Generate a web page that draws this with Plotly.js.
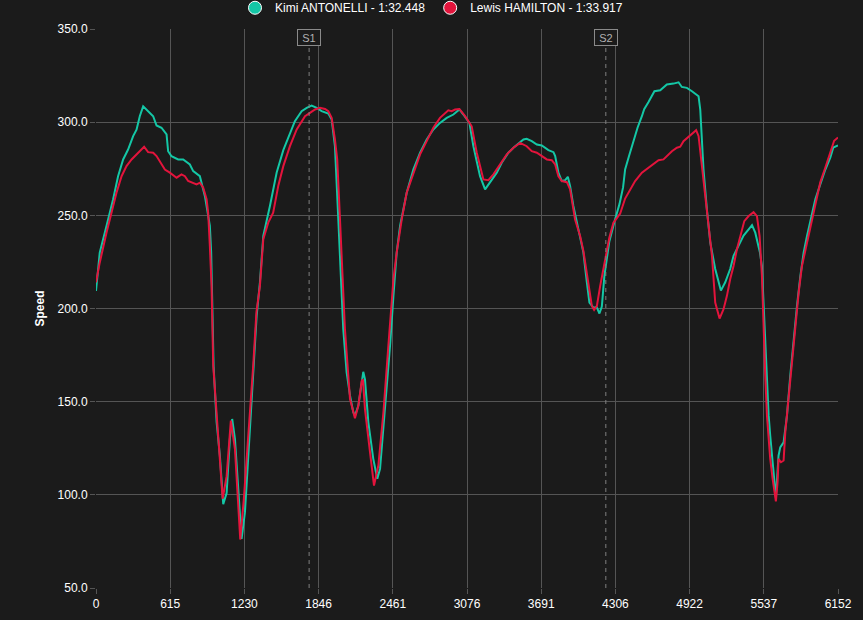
<!DOCTYPE html>
<html>
<head>
<meta charset="utf-8">
<script src="https://cdn.plot.ly/plotly-3.0.1.min.js"></script>
<style>
html,body{margin:0;padding:0;background:#1b1b1b;}
#chart{width:863px;height:620px;}
</style>
</head>
<body>
<div id="chart"></div>
<script>
var driverNames = ['Kimi ANTONELLI - 1:32.448', 'Lewis HAMILTON - 1:33.917'];
var driverColors = ['#14c7a6', '#e3143c'];

var antonelliDist = [0,31,87,142,183,225,266,308,336,363,391,432,474,502,543,585,598,626,681,723,778,806,861,903,944,955,965,975,1000,1027,1055,1083,1110,1129,1152,1179,1207,1235,1262,1303,1332,1359,1387,1442,1498,1553,1608,1649,1705,1747,1788,1830,1871,1926,1954,1981,2009,2037,2050,2078,2106,2133,2147,2175,2203,2216,2230,2258,2299,2332,2355,2396,2438,2466,2493,2521,2576,2631,2687,2742,2797,2852,2908,2963,3013,3046,3096,3129,3184,3226,3267,3323,3364,3419,3461,3516,3544,3571,3613,3655,3696,3751,3793,3807,3834,3862,3890,3912,3931,3958,4000,4041,4070,4091,4124,4153,4174,4194,4215,4256,4300,4340,4370,4387,4420,4460,4490,4526,4545,4581,4630,4678,4733,4788,4830,4857,4899,4941,4996,5010,5024,5037,5065,5093,5134,5181,5217,5258,5286,5328,5369,5411,5439,5466,5494,5505,5521,5535,5549,5563,5577,5590,5618,5637,5659,5673,5701,5729,5756,5784,5812,5840,5867,5895,5922,5964,6005,6047,6088,6113,6152];
var antonelliSpeed = [209.4,230,244.3,258.6,271,280,285.3,292.5,296,303.2,308.5,305.9,303.2,298.2,297,293.4,284.4,281.7,280,280,277.3,273.7,271,260.3,244.3,230,205,169,139,121,95,101,130,140.7,130,105,76.4,90.7,121,162,196,214,239,255,273,285,294.3,300.5,305.9,307.7,308.9,307.7,305.9,304.6,301.4,287.1,247.8,207,189,165.7,153.2,144.3,142.5,147.8,162.1,166,162.1,138.9,119.3,108.6,113.9,144.3,180,206.8,230,244.3,262.1,274.6,283.6,290.7,296.1,299.6,302.3,304.1,306.8,304.1,299.6,287.1,271,263.9,267.5,272.9,278.2,283.6,286.3,289,290.7,291.1,289.8,288,287.5,285,283.9,281.8,272.9,268.4,268.9,270.7,265.7,255,242.5,230,213.9,203.2,200.5,200.5,197.3,201,217.5,236,247,256,265,274.6,282,291,297,303.2,307,310.8,316.6,317.1,320.2,320.7,321.4,318.9,318.4,316.6,313.9,306.8,292.5,274.6,253.2,235.4,221.2,209.6,214.1,221.2,228.3,233.7,239.1,242.5,244.7,240.7,233.7,230,222.8,201.4,183.6,163.9,142.5,131.8,112.1,98.5,121,125.5,128.2,142.5,163.9,183.6,201.4,217.5,230,238.9,246,258.6,266.6,274.6,281,286.4,287.5];

var hamiltonDist = [0,31,87,129,170,212,253,295,336,378,399,432,474,502,529,571,612,668,709,737,764,806,834,861,889,917,930,944,958,972,1013,1050,1083,1118,1152,1175,1196,1226,1262,1303,1330,1359,1387,1428,1469,1511,1553,1608,1664,1691,1733,1774,1816,1857,1899,1926,1954,1981,2000,2023,2050,2064,2106,2147,2175,2203,2213,2230,2272,2305,2341,2383,2424,2466,2493,2535,2576,2631,2687,2742,2797,2852,2894,2921,2949,2977,3013,3060,3115,3157,3212,3253,3295,3350,3406,3461,3516,3571,3613,3655,3696,3738,3779,3807,3834,3862,3904,3931,3972,4014,4041,4070,4111,4130,4153,4180,4215,4256,4290,4346,4387,4429,4470,4526,4581,4622,4664,4705,4733,4775,4816,4844,4871,4927,4976,4996,5024,5051,5079,5107,5134,5170,5203,5231,5258,5286,5314,5341,5375,5411,5452,5480,5502,5521,5535,5549,5563,5590,5610,5626,5637,5651,5659,5679,5701,5715,5742,5770,5798,5826,5853,5895,5936,5970,6005,6047,6088,6120,6152];
var hamiltonSpeed = [214,224.6,240.7,251.4,262.1,271,276.4,280,282.7,285.3,286.8,283.9,283.6,281.8,279.1,274.6,272.9,270.2,272,271,268.4,267.5,266.6,267.5,264.8,258.6,251.4,233.5,212.1,169.3,130,97.9,110,139.8,124.6,100,76,98,130,169,198,212,237.2,246.1,251.4,265.7,276.4,287.1,296.1,298.7,303.2,305,306.8,307.7,307.1,305.9,302.3,290.7,280,247.8,206.8,188.9,151.4,141.1,147.8,161.2,162,146,122.8,105,115.7,144.3,180,215.7,230,247.8,262.1,272.9,282.7,289.8,297,302.3,305,306.4,305.9,306.8,307.1,303.2,297.8,283.6,269.3,268.9,272,277.5,282.7,286.3,288.9,287.1,284.4,283.6,281.8,280,279.6,277.3,271,268.4,267.8,263.9,247.8,238.9,230.9,217.5,201.4,199.3,201.4,212,225,238,246,251,259,264,268.4,272.9,275.5,277.3,279.6,280,281.8,284.4,286.3,286.8,289.8,292.8,295.7,292.5,276.4,260.3,244.3,228.3,203.2,194.6,199.6,206.8,215.7,222.8,231.8,238.9,246.9,249.6,251.7,249.6,238.9,218,187.1,163.9,142.5,119.3,108.6,101.4,96.5,106.8,119.3,117.5,118.4,133.5,151.4,171.1,190.7,208.6,222.8,235.4,247.8,258.6,267.7,275.7,284.3,290,291.8];

var xTickVals = [0,615.2,1230.4,1845.6,2460.8,3076,3691.2,4306.4,4921.6,5536.8,6152];
var xTickText = ['0','615','1230','1846','2461','3076','3691','4306','4922','5537','6152'];
var sectorDist = [1767, 4227];
var sectorLabels = ['S1', 'S2'];

var bg = '#1b1b1b';
var gridColor = '#555555';

var traces = [
  {x: antonelliDist, y: antonelliSpeed, mode: 'lines', line: {color: driverColors[0], width: 2}, showlegend: false, hoverinfo: 'skip'},
  {x: hamiltonDist, y: hamiltonSpeed, mode: 'lines', line: {color: driverColors[1], width: 2}, showlegend: false, hoverinfo: 'skip'},
  {x: [null], y: [null], mode: 'markers', name: driverNames[0], marker: {color: driverColors[0], size: 13, line: {color: '#ffffff', width: 1}}},
  {x: [null], y: [null], mode: 'markers', name: driverNames[1], marker: {color: driverColors[1], size: 13, line: {color: '#ffffff', width: 1}}}
];

var shapes = sectorDist.map(function(d){
  return {type: 'line', xref: 'x', yref: 'paper', x0: d, x1: d, y0: 0, y1: 1,
          line: {color: '#808080', width: 1, dash: '4px,4px'}};
});
var annotations = sectorDist.map(function(d, i){
  return {x: d, xref: 'x', y: 1, yref: 'paper', yanchor: 'top', xanchor: 'center',
          text: sectorLabels[i], showarrow: false, bgcolor: bg, bordercolor: '#8a8a8a',
          borderwidth: 1, borderpad: 1, width: 20, height: 13,
          font: {family: 'Liberation Sans, Arial, sans-serif', size: 11, color: '#b0b0b0'}};
});

var layout = {
  width: 863, height: 620,
  paper_bgcolor: bg, plot_bgcolor: bg,
  margin: {l: 96, r: 25, t: 29, b: 32, autoexpand: false},
  font: {family: 'Liberation Sans, Arial, sans-serif', color: '#ffffff', size: 12},
  showlegend: true,
  legend: {orientation: 'h', xref: 'container', x: 0.5, xanchor: 'center', y: 1.038, yanchor: 'middle',
           font: {size: 12, color: '#ffffff'}, bgcolor: 'rgba(0,0,0,0)', itemwidth: 30},
  xaxis: {range: [0, 6152], tickvals: xTickVals, ticktext: xTickText,
          showgrid: true, gridcolor: gridColor, gridwidth: 1, zeroline: false,
          ticks: 'outside', ticklen: 5, tickcolor: gridColor, showline: false,
          tickfont: {size: 12, color: '#ffffff'}},
  yaxis: {range: [50, 350], dtick: 50, tick0: 50, tickformat: '.1f',
          showgrid: true, gridcolor: gridColor, gridwidth: 1, zeroline: false,
          ticks: 'outside', ticklen: 5, tickcolor: gridColor, showline: false,
          tickfont: {size: 12, color: '#ffffff'},
          title: {text: '<b>Speed</b>', font: {size: 12, color: '#ffffff'}, standoff: 10}},
  shapes: shapes,
  annotations: annotations
};

Plotly.newPlot('chart', traces, layout, {displayModeBar: false, staticPlot: true});
</script>
</body>
</html>
